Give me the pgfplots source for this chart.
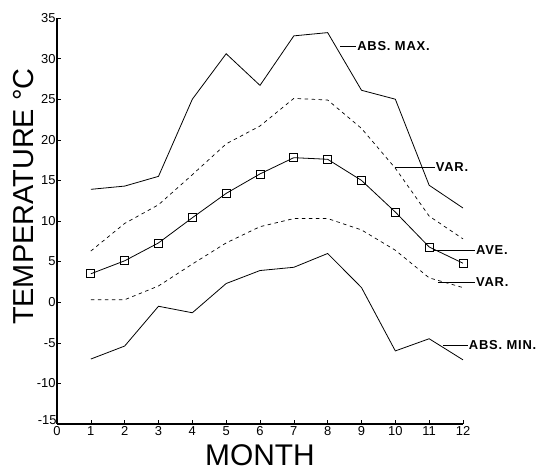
\documentclass[border=0pt]{standalone}
\usepackage{pgfplots}
\pgfplotsset{compat=1.18}
\usepackage{fontspec}
\setmainfont{Liberation Sans}
\newfontfamily\lblfont[LetterSpace=6]{Liberation Sans}
\begin{document}
\begin{tikzpicture}
\useasboundingbox (-57bp,-48bp) rectangle (481bp,424bp);
\begin{axis}[
  scale only axis, width=406bp, height=406bp,
  anchor=south west, at={(0,0)},
  xmin=0, xmax=12, ymin=-15, ymax=35,
  axis lines=left, axis line style={-, line width=1.1pt},
  xtick={0,1,...,12}, ytick={-10,-5,...,35},
  extra y ticks={-15},
  extra y tick style={yticklabel style={yshift=4bp, xshift=1bp}},
  tick align=inside, major tick length=4bp,
  tick style={line width=0.6pt, black},
  /pgf/number format/assume math mode=true,
  tick label style={font=\fontsize{13}{14}\selectfont},
  xticklabel style={yshift=1bp},
  yticklabel style={xshift=2bp},
  xlabel={MONTH}, ylabel={TEMPERATURE °C},
  xlabel style={font=\fontsize{30}{32}\selectfont, yshift=-2bp},
  ylabel style={font=\fontsize{29}{30}\selectfont, at={(ticklabel cs:0.56)}, yshift=-4bp},
  clip=false,
]
\addplot[black, line width=0.8pt] coordinates {(1,13.9)(2,14.3)(3,15.5)(4,25.0)(5,30.6)(6,26.7)(7,32.8)(8,33.2)(9,26.1)(10,25.0)(11,14.4)(12,11.6)};
\addplot[black, line width=0.7pt, dash pattern=on 3.5bp off 3.5bp] coordinates {(1,6.3)(2,9.7)(3,12.0)(4,15.7)(5,19.5)(6,21.7)(7,25.1)(8,24.9)(9,21.4)(10,16.5)(11,10.6)(12,7.8)};
\addplot[black, line width=0.8pt, mark=square, mark size=4bp, mark options={solid, line width=0.8pt}] coordinates {(1,3.5)(2,5.1)(3,7.3)(4,10.4)(5,13.4)(6,15.8)(7,17.8)(8,17.6)(9,15.0)(10,11.1)(11,6.8)(12,4.8)};
\addplot[black, line width=0.7pt, dash pattern=on 3.5bp off 3.5bp] coordinates {(1,0.3)(2,0.3)(3,2.0)(4,4.7)(5,7.3)(6,9.3)(7,10.3)(8,10.3)(9,8.9)(10,6.4)(11,3.0)(12,1.8)};
\addplot[black, line width=0.8pt] coordinates {(1,-7.0)(2,-5.4)(3,-0.5)(4,-1.3)(5,2.3)(6,3.9)(7,4.3)(8,6.0)(9,1.8)(10,-6.0)(11,-4.5)(12,-7.1)};
\begin{scope}[every node/.style={font=\lblfont\bfseries\fontsize{13}{14}\selectfont, anchor=west, inner sep=0.5bp}]
\draw[line width=0.8pt] (axis cs:8.37,31.55) -- (axis cs:8.85,31.55) node {ABS.\ MAX.};
\draw[line width=0.8pt] (axis cs:9.99,16.65) -- (axis cs:11.17,16.65) node {VAR.};
\draw[line width=0.8pt] (axis cs:11.1,6.43) -- (axis cs:12.36,6.43) node {AVE.};
\draw[line width=0.8pt] (axis cs:11.26,2.49) -- (axis cs:12.36,2.49) node {VAR.};
\draw[line width=0.8pt] (axis cs:11.41,-5.27) -- (axis cs:12.15,-5.27) node {ABS.\ MIN.};
\end{scope}
\end{axis}
\end{tikzpicture}
\end{document}
